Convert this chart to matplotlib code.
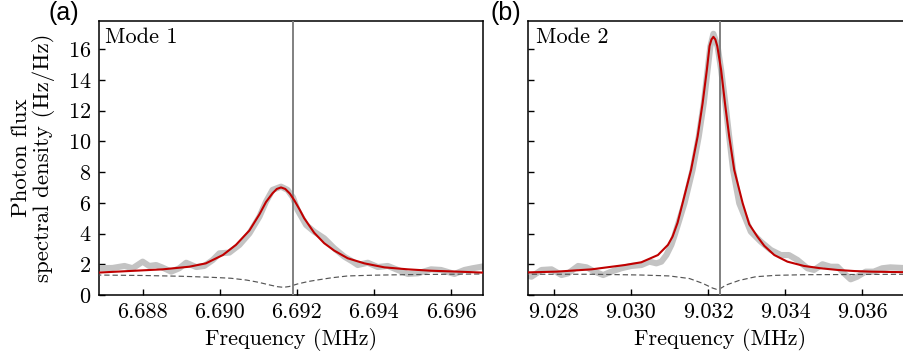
import matplotlib
matplotlib.use("Agg")
import matplotlib.pyplot as plt
from matplotlib.ticker import FixedLocator, FormatStrFormatter

plt.rcParams['font.family'] = 'cmr10'
plt.rcParams['mathtext.fontset'] = 'cm'
plt.rcParams['axes.unicode_minus'] = False
plt.rcParams['axes.formatter.use_mathtext'] = True

# ---------------- Mode 1 data ----------------
freq_a_data = [6.68679, 6.68722, 6.68753, 6.68774, 6.68800, 6.68817, 6.68835, 6.68852, 6.68874, 6.68895,
               6.68913, 6.68939, 6.68960, 6.68982, 6.68999, 6.69025, 6.69051, 6.69077, 6.69103, 6.69120,
               6.69137, 6.69159, 6.69176, 6.69190, 6.69202, 6.69224, 6.69245, 6.69271, 6.69297, 6.69323,
               6.69345, 6.69358, 6.69384, 6.69410, 6.69436, 6.69462, 6.69488, 6.69514, 6.69548, 6.69574,
               6.69609, 6.69635, 6.69656, 6.69690]
psd_a_data = [1.74, 1.76, 1.89, 1.74, 2.17, 1.89, 1.95, 1.78, 1.52, 1.74,
              2.10, 1.82, 1.89, 2.28, 2.71, 2.76, 3.26, 4.01, 5.10, 6.07,
              6.84, 7.05, 6.84, 6.35, 5.53, 4.56, 4.12, 3.69, 3.04, 2.50,
              2.17, 1.95, 2.10, 1.82, 1.89, 1.63, 1.37, 1.41, 1.67, 1.63,
              1.37, 1.63, 1.74, 1.89]

freq_a_fit = [6.68679, 6.68765, 6.68852, 6.68921, 6.68964, 6.69008, 6.69042, 6.69077, 6.69103, 6.69120,
              6.69137, 6.69148, 6.69159, 6.69170, 6.69182, 6.69194, 6.69207, 6.69219, 6.69245, 6.69271,
              6.69297, 6.69332, 6.69375, 6.69427, 6.69488, 6.69548, 6.69617, 6.69690]
psd_a_fit = [1.45, 1.56, 1.67, 1.84, 2.06, 2.60, 3.26, 4.20, 5.25, 6.05,
             6.62, 6.90, 7.00, 6.90, 6.60, 6.14, 5.57, 5.00, 4.05, 3.37,
             2.89, 2.39, 2.06, 1.80, 1.67, 1.58, 1.52, 1.45]

freq_a_bg = [6.68679, 6.68800, 6.68900, 6.68980, 6.69029, 6.69070, 6.69100, 6.69130, 6.69150, 6.69165,
             6.69180, 6.69202, 6.69230, 6.69254, 6.69290, 6.69332, 6.69400, 6.69500, 6.69690]
bg_a = [1.30, 1.27, 1.22, 1.15, 1.09, 0.97, 0.83, 0.65, 0.54, 0.50,
        0.55, 0.72, 0.88, 0.98, 1.12, 1.24, 1.29, 1.33, 1.37]

# ---------------- Mode 2 data ----------------
freq_b_data = [9.02725, 9.02742, 9.02768, 9.02794, 9.02820, 9.02837, 9.02863, 9.02885, 9.02906, 9.02928,
               9.02949, 9.02975, 9.03001, 9.03027, 9.03048, 9.03066, 9.03079, 9.03092, 9.03105, 9.03113,
               9.03139, 9.03160, 9.03176, 9.03189, 9.03199, 9.03206, 9.03214, 9.03225, 9.03234, 9.03245,
               9.03255, 9.03265, 9.03281, 9.03311, 9.03337, 9.03363, 9.03389, 9.03410, 9.03432, 9.03458,
               9.03475, 9.03497, 9.03518, 9.03536, 9.03553, 9.03570, 9.03587, 9.03609, 9.03630, 9.03652,
               9.03673, 9.03720]
psd_b_data = [1.30, 1.19, 1.63, 1.67, 1.30, 1.41, 1.89, 1.80, 1.52, 1.30,
              1.52, 1.74, 1.89, 1.95, 2.17, 2.06, 2.17, 2.60, 3.26, 3.85,
              5.97, 8.14, 10.31, 12.48, 14.65, 16.17, 17.00, 16.17, 14.65, 12.48,
              10.31, 8.14, 5.97, 4.12, 3.47, 2.93, 2.60, 2.60, 2.28, 1.74,
              1.63, 2.00, 1.84, 1.84, 1.41, 1.02, 1.19, 1.52, 1.52, 1.74,
              1.80, 1.74]

freq_b_fit = [9.02700, 9.02807, 9.02898, 9.02984, 9.03027, 9.03070, 9.03096, 9.03108, 9.03121, 9.03134,
              9.03156, 9.03173, 9.03186, 9.03197, 9.03204, 9.03209, 9.03214, 9.03219, 9.03224, 9.03234,
              9.03244, 9.03255, 9.03268, 9.03290, 9.03307, 9.03328, 9.03346, 9.03372, 9.03406, 9.03449,
              9.03492, 9.03536, 9.03579, 9.03622, 9.03720]
psd_b_fit = [1.45, 1.52, 1.67, 1.95, 2.13, 2.60, 3.26, 3.80, 4.70, 5.97,
             8.14, 10.31, 12.48, 14.65, 16.20, 16.63, 16.80, 16.63, 16.20, 14.65,
             12.48, 10.31, 8.14, 5.97, 4.60, 3.80, 3.20, 2.60, 2.17, 1.89,
             1.74, 1.63, 1.56, 1.52, 1.48]

freq_b_bg = [9.02700, 9.02900, 9.03027, 9.03100, 9.03152, 9.03186, 9.03212, 9.03222, 9.03232, 9.03247,
             9.03281, 9.03324, 9.03376, 9.03450, 9.03720]
bg_b = [1.35, 1.35, 1.30, 1.24, 1.07, 0.76, 0.45, 0.37, 0.42, 0.65,
        0.95, 1.19, 1.28, 1.32, 1.35]

# panel settings
mode_labels = ["Mode 1", "Mode 2"]
panel_labels = ["(a)", "(b)"]
marker_freqs = [6.69189, 9.03232]
xlims = [(6.68686, 6.69683), (9.02733, 9.03730)]
xticks_a = [6.688, 6.690, 6.692, 6.694, 6.696]
xticks_b = [9.028, 9.030, 9.032, 9.034, 9.036]
yticks = [0, 2, 4, 6, 8, 10, 12, 14, 16]
ylim = (0, 17.85)

W, H = 904, 354
fig = plt.figure(figsize=(W / 100, H / 100), dpi=100)

ax_w = 384.3 / W
ax_h = (295 - 20.7) / H
ax_b = 1 - 295 / H
axA = fig.add_axes([98.7 / W, ax_b, ax_w, ax_h])
axB = fig.add_axes([528.0 / W, ax_b, ax_w, ax_h])

data_sets = [
    (axA, freq_a_data, psd_a_data, freq_a_fit, psd_a_fit, freq_a_bg, bg_a, xticks_a),
    (axB, freq_b_data, psd_b_data, freq_b_fit, psd_b_fit, freq_b_bg, bg_b, xticks_b),
]

for i, (ax, fd, pd_, ff, pf, fb, bb, xt) in enumerate(data_sets):
    ax.plot(fd, pd_, color='#c3c3c3', lw=4.4, solid_capstyle='round', solid_joinstyle='round', zorder=2)
    ax.plot(fb, bb, color='#555555', lw=0.85, linestyle=(0, (4.5, 2.5)), zorder=3)
    ax.axvline(marker_freqs[i], color='#808080', lw=1.4, zorder=3)
    ax.plot(ff, pf, color='#c00000', lw=1.5, zorder=4, solid_joinstyle='round')
    ax.set_xlim(*xlims[i])
    ax.set_ylim(*ylim)
    ax.xaxis.set_major_locator(FixedLocator(xt))
    ax.xaxis.set_major_formatter(FormatStrFormatter('%.3f'))
    ax.yaxis.set_major_locator(FixedLocator(yticks))
    ax.tick_params(direction='in', length=4.5, width=1.0, labelsize=16, pad=5.5,
                   top=False, right=False)
    for s in ax.spines.values():
        s.set_linewidth(1.1)
    ax.set_xlabel("Frequency (MHz)", fontsize=16, labelpad=4)
    ax.text(0.016 if i == 0 else 0.020, 0.9176, mode_labels[i], transform=ax.transAxes,
            fontsize=16, ha='left', va='baseline')

axB.tick_params(labelleft=False)
axA.set_ylabel("Photon flux\nspectral density (Hz/Hz)", fontsize=16.5, linespacing=1.1)
axA.yaxis.set_label_coords(-0.113, 0.5)

fig.text(48.5 / W, 1 - 20 / H, panel_labels[0], fontsize=18, family='Liberation Sans',
         ha='left', va='baseline')
fig.text(490.5 / W, 1 - 20 / H, panel_labels[1], fontsize=18, family='Liberation Sans',
         ha='left', va='baseline')

fig.savefig("out.png", dpi=100)
